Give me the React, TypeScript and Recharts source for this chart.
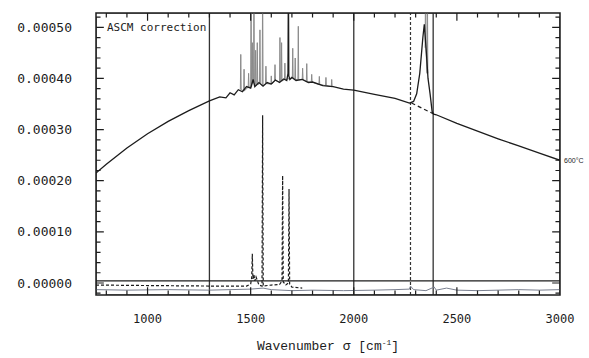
import { ComposedChart, Line, XAxis, YAxis, ReferenceLine, ReferenceDot, ReferenceArea, Label } from 'recharts';

// wavenumber range and absorbance range of the frame
const WN_DOMAIN = [750, 3000];
const ABS_DOMAIN = [-0.0000235, 0.000528];

const X_LABEL_TICKS = [1000, 1500, 2000, 2500, 3000];
const X_FRAME_TICKS = [800, 900, 1000, 1100, 1200, 1300, 1400, 1500, 1600, 1700, 1800, 1900, 2000, 2100, 2200, 2300, 2400, 2500, 2600, 2700, 2800, 2900];
const Y_LABEL_TICKS = [0, 0.0001, 0.0002, 0.0003, 0.0004, 0.0005];
const Y_FRAME_TICKS = Array.from({ length: 28 }, (_, i) => (i - 1) * 0.00002);

// measured spectrum (black)
const curveWn = [750, 800, 900, 1000, 1100, 1200, 1300, 1350, 1380, 1400, 1420, 1440, 1460, 1480, 1500, 1512, 1520, 1540, 1560, 1580, 1600, 1620, 1640, 1660, 1675, 1681, 1683, 1685, 1690, 1700, 1720, 1750, 1780, 1800, 1850, 1900, 1950, 2000, 2100, 2200, 2270, 2290, 2305, 2320, 2335, 2342, 2352, 2360, 2370, 2380, 2388, 2400, 2500, 2600, 2700, 2800, 2900, 3000];
const curveAbs = [0.000215, 0.000232, 0.000264, 0.000292, 0.000316, 0.000337, 0.000356, 0.000364, 0.000362, 0.000372, 0.000368, 0.000378, 0.000374, 0.000384, 0.000381, 0.000398, 0.000384, 0.000392, 0.000385, 0.000392, 0.000389, 0.000397, 0.000392, 0.000399, 0.000396, 0.00041, 0.0006, 0.000405, 0.000398, 0.000402, 0.000396, 0.000398, 0.000392, 0.000393, 0.000386, 0.000384, 0.000379, 0.000377, 0.000369, 0.000361, 0.000352, 0.000355, 0.00037, 0.00041, 0.00048, 0.000506, 0.00045, 0.0004, 0.00037, 0.000335, 0.00033, 0.000329, 0.000312, 0.000297, 0.000282, 0.000268, 0.000254, 0.00024];

// gas lines before correction (gray spikes), 1400-1900 band
const spikeWn = [1452, 1468, 1490, 1502, 1508, 1516, 1524, 1532, 1545, 1558, 1574, 1600, 1618, 1642, 1650, 1666, 1704, 1716, 1731, 1752, 1772, 1796, 1833, 1865, 1893];
const spikePeak = [0.000447, 0.000418, 0.00041, 0.0006, 0.00047, 0.0006, 0.000455, 0.00047, 0.000495, 0.0006, 0.000424, 0.000405, 0.000427, 0.00048, 0.00047, 0.00043, 0.000459, 0.00044, 0.000502, 0.00042, 0.000429, 0.000408, 0.000404, 0.000402, 0.000398];
const spikeBase = [0.000378, 0.000376, 0.000383, 0.000383, 0.00039, 0.000392, 0.000386, 0.000388, 0.00039, 0.000386, 0.00039, 0.000389, 0.000396, 0.000393, 0.000395, 0.000398, 0.000401, 0.000398, 0.000397, 0.000398, 0.000394, 0.000393, 0.000388, 0.000386, 0.000384];

// gray lines on the CO2 band
const co2SpikeWn = [2348, 2357];
const co2SpikePeak = [0.0006, 0.0006];
const co2SpikeBase = [0.00046, 0.00041];

// interpolated baseline under the CO2 band (dashed)
const co2BaseWn = [2280, 2390];
const co2BaseAbs = [0.000352, 0.00033];

// correction spectrum (dashed, near zero)
const corrWn = [750, 1000, 1300, 1480, 1500, 1505, 1508, 1511, 1516, 1520, 1526, 1540, 1555, 1558, 1561, 1600, 1640, 1652, 1655, 1658, 1670, 1683, 1686, 1689, 1700, 1750];
const corrAbs = [-0.000004, -0.000005, -0.000006, -0.000006, -0.000002, 0.00001, 0.000057, 0.000008, 0.000016, 0.000004, 0.000012, -0.000004, -0.000006, 0.000328, -0.000006, -0.000004, -0.000003, 0.000004, 0.00021, 0.000002, -0.000004, 0, 0.000184, -0.000002, -0.000008, -0.00001];

// residual (gray, bottom)
const resWn = [750, 900, 1100, 1300, 1500, 1560, 1600, 1700, 1800, 1950, 2100, 2200, 2270, 2275, 2290, 2350, 2390, 2400, 2450, 2500, 2600, 2700, 2800, 2900, 3000];
const resAbs = [-0.000013, -0.000014, -0.000013, -0.000014, -0.000012, -0.00001, -0.000013, -0.000015, -0.000014, -0.000015, -0.000014, -0.000013, -0.000012, -0.000006, -0.000013, -0.000015, -0.000008, -0.000014, -0.00001, -0.000014, -0.000015, -0.000014, -0.000013, -0.000014, -0.000013];

const VERTICAL_SOLID = [1300, 2000, 2385];
const VERTICAL_DASHED = 2275;

const toPoints = (wn: number[], abs: number[]) => wn.map((w, i) => ({ wn: w, abs: abs[i] }));
const toSpikes = (wn: number[], peak: number[], base: number[]) =>
    wn.flatMap((w, i) => [
        { wn: w - 2, abs: base[i] },
        { wn: w, abs: peak[i] },
        { wn: w + 2, abs: base[i] },
    ]);

const curveData = toPoints(curveWn, curveAbs);
const spikeData = toSpikes(spikeWn, spikePeak, spikeBase);
const co2SpikeData = toSpikes(co2SpikeWn, co2SpikePeak, co2SpikeBase);
const co2BaseData = toPoints(co2BaseWn, co2BaseAbs);
const corrData = toPoints(corrWn, corrAbs);
const resData = toPoints(resWn, resAbs);

// frame ticks drawn as combs running along the frame (out to the tick length and back)
const isMajor = (v: number, major: number[]) => major.some((m) => Math.abs(m - v) < 1e-9);
const [WN0, WN1] = WN_DOMAIN;
const [AB0, AB1] = ABS_DOMAIN;
const yComb = (edge: number, dir: number) =>
    Y_FRAME_TICKS.flatMap((v) => {
        const len = isMajor(v, Y_LABEL_TICKS) ? 38 : 22;
        return [{ wn: edge, abs: v }, { wn: edge + dir * len, abs: v }, { wn: edge, abs: v }];
    });
const xComb = (edge: number, dir: number) =>
    X_FRAME_TICKS.flatMap((w) => {
        const len = isMajor(w, X_LABEL_TICKS) ? 0.000015 : 0.0000088;
        return [{ wn: w, abs: edge }, { wn: w, abs: edge + dir * len }, { wn: w, abs: edge }];
    });
const leftComb = yComb(WN0, 1);
const rightComb = yComb(WN1, -1);
const bottomComb = xComb(AB0, 1);
const topComb = xComb(AB1, -1);

const INK = '#1c1c1c';
const MONO = "'DejaVu Sans Mono', monospace";

function AxisTitle(props: any) {
    const vb = props.viewBox;
    return (
        <text
            x={vb.x + vb.width / 2}
            y={vb.y + 55}
            textAnchor="middle"
            fontFamily="'Liberation Mono', monospace"
            fontSize={13}
            fill={INK}
        >
            Wavenumber σ [cm<tspan dy={-5} fontSize={8}>-1</tspan><tspan dy={5}>]</tspan>
        </text>
    );
}

export default function App() {
    const comb = { xAxisId: 'x', yAxisId: 'y', dataKey: 'abs', type: 'linear' as const, stroke: INK, strokeWidth: 1.2, dot: false, activeDot: false, isAnimationActive: false };
    return (
        <div style={{ position: 'absolute', left: 0, top: 0, width: 589, height: 358, background: '#fff' }}>
            <ComposedChart width={589} height={358} margin={{ top: 13, right: 29, bottom: 0, left: 0 }}>
                <XAxis
                    xAxisId="x"
                    type="number"
                    dataKey="wn"
                    domain={WN_DOMAIN}
                    allowDataOverflow
                    ticks={X_LABEL_TICKS}
                    interval={0}
                    tickLine={false}
                    axisLine={false}
                    tickMargin={13}
                    height={63}
                    tick={{ fill: INK, fontSize: 12, fontFamily: MONO }}
                >
                    <Label content={AxisTitle} />
                </XAxis>
                <YAxis
                    yAxisId="y"
                    type="number"
                    dataKey="abs"
                    domain={ABS_DOMAIN}
                    allowDataOverflow
                    ticks={Y_LABEL_TICKS}
                    interval={0}
                    tickFormatter={(v: number) => v.toFixed(5)}
                    tickLine={false}
                    axisLine={false}
                    tickMargin={18}
                    width={96}
                    tick={{ fill: INK, fontSize: 13, fontFamily: MONO }}
                />

                <ReferenceArea x1={WN0} x2={WN1} y1={AB0} y2={AB1}
                    xAxisId="x" yAxisId="y" fill="none" fillOpacity={0} stroke={INK} strokeWidth={1.5} />

                {VERTICAL_SOLID.map((w) => (
                    <ReferenceLine key={w} x={w} xAxisId="x" yAxisId="y" stroke="#333" strokeWidth={1.3} />
                ))}
                <ReferenceLine x={VERTICAL_DASHED} xAxisId="x" yAxisId="y" stroke="#333" strokeWidth={1.2} strokeDasharray="3 2" />
                <ReferenceLine y={0.000004} xAxisId="x" yAxisId="y" stroke={INK} strokeWidth={1.2} />

                <Line data={resData} xAxisId="x" yAxisId="y" dataKey="abs" type="linear" stroke="#7a8090"
                    strokeWidth={1} dot={false} isAnimationActive={false} />
                <Line data={spikeData} xAxisId="x" yAxisId="y" dataKey="abs" type="linear" stroke="#8a8a8a"
                    strokeWidth={1} dot={false} isAnimationActive={false} />
                <Line data={co2SpikeData} xAxisId="x" yAxisId="y" dataKey="abs" type="linear" stroke="#8a8a8a"
                    strokeWidth={1} dot={false} isAnimationActive={false} />
                <Line data={curveData} xAxisId="x" yAxisId="y" dataKey="abs" type="linear" stroke={INK}
                    strokeWidth={1.3} dot={false} isAnimationActive={false} />
                <Line data={co2BaseData} xAxisId="x" yAxisId="y" dataKey="abs" type="linear" stroke={INK}
                    strokeWidth={1.2} strokeDasharray="4 3" dot={false} isAnimationActive={false} />
                <Line data={corrData} xAxisId="x" yAxisId="y" dataKey="abs" type="linear" stroke={INK}
                    strokeWidth={1.2} strokeDasharray="3 2" dot={false} isAnimationActive={false} />

                {/* frame tick combs */}
                <Line {...comb} data={leftComb} />
                <Line {...comb} data={rightComb} />
                <Line {...comb} data={bottomComb} />
                <Line {...comb} data={topComb} />

                <ReferenceDot x={750} y={0.0005} xAxisId="x" yAxisId="y" r={0}
                    label={{ value: 'ASCM correction', position: 'right', offset: 11, fontSize: 11, fontFamily: MONO, fill: INK }} />
                <ReferenceDot x={3000} y={0.00024} xAxisId="x" yAxisId="y" r={0}
                    label={{ value: '600°C', position: 'right', offset: 4, fontSize: 7, fontFamily: "'Liberation Sans', sans-serif", fill: INK }} />
            </ComposedChart>
        </div>
    );
}
